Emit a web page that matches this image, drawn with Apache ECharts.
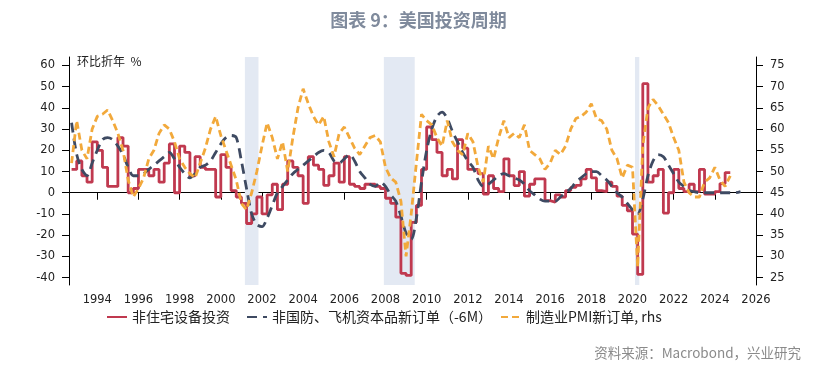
<!DOCTYPE html>
<html><head><meta charset="utf-8">
<script src="https://cdn.jsdelivr.net/npm/echarts@6/dist/echarts.min.js"></script>
<style>html,body{margin:0;padding:0;background:#fff}#c{width:837px;height:373px}</style>
</head><body><div id="c"></div>
<script>
// ---- data (quarterly, decimal-year start) ----
const xTicks = [1994,1996,1998,2000,2002,2004,2006,2008,2010,2012,2014,2016,2018,2020,2022,2024,2026];
const leftTicks = [-40,-30,-20,-10,0,10,20,30,40,50,60];
const rightTicks = [25,30,35,40,45,50,55,60,65,70,75];
const recessions = [[2001.17,2001.83],[2007.92,2009.42],[2020.12,2020.33]];
const seriesNames = ['非住宅设备投资','非国防、飞机资本品新订单（-6M）','制造业PMI新订单, rhs'];

const redStart = 1992.75;
const redValues = [11,15,8,5,24,20,12,3,3,26,22,0,2,11,11,8,11,5,14,23,0,22,19,8,17,12,11,11,-2,18,12,1,-2,-5,-14.5,-10,-2,-10,-1,4,-8,4,15,12,8,-5,17,13,11,3.5,8,14,5,17,4,3,2,4,4,3,2,-2.6,-5,-11.5,-38,-39,-14,-6,11,31,25,19,8,11,6.5,25,21,11,11,9,-0.6,8,2,0.5,16,8,3.4,10,-1.6,4,6.5,6.5,-3.7,-4.5,-1,-2,1,2.5,3.5,6.5,11,7,1,0.5,5,3,-1.6,-6,-8.5,-19.5,-38.5,51.4,5,8,11,-9.6,0,11,2,0.5,4,0.5,11,-0.6,-0.6,0.5,4.3,9.5,9.5];

const navyStart = 1992.75;
const navyValues = [33,18,11,8,14,20,25,26,25,22,18,12,8,8,9,11,13,15,17,19,16,12,9,7,9,12,13,15,19,23,26,27,26,15,2,-10,-15,-16,-12,-6,0,3,6,9,11,13,15,17,19,20,19,15,14,16,18,15,10,7,4,3,5,3,-1,-4,-11,-19,-22,-12,5,20,30,36,38,35,29,24,19,15,12,6,3,4,6,8,9,8,7,6,4,1,-1,-3,-4,-4,-4,-2,0,2,5,7,9,10,10,8,6,3,0,-2,-5,-8,-10,-3,8,15,18,17,13,9,5,3,1,0.5,0,0,0,0,0,0,0,0,0.5];

const orangeStart = 1992.75;
const orangeValues = [52,62,55,53,60,63,63.5,64.5,62,59,55,48,44,46,48.5,53,55,59,61,60,57,53,51,49.5,48.5,52,55.5,60,63,58.5,55,51.5,48,42.5,41,45,50,56,61.5,58,53,57,50,58,65,69.5,66,63,61,63,57,53.5,59,60.5,58,55.5,54,56,58,58.5,57,51,48.5,47.5,43,30,40,52,63.5,62,61,58,56,62,57,55,54,59,57,51,47.5,56,53,58,62,58,59,58,61,55,54,53,50.5,52,55,54,56,60,62.5,63,64,66,62.5,62,60,55,53,48.5,51.5,51,27.5,56,65,67,65.5,63.5,61.5,58,55,47.5,45,44,44,47.5,48.5,51,48,46.5,49];

function toPairs(start, vals){ return vals.map((v,i)=>[start + i*0.25, v]); }

const chart = echarts.init(document.getElementById('c'), null, {renderer:'canvas'});
const axisFont = {fontFamily:'DejaVu Sans', fontSize:11.5, color:'#222'};
const cjk = 'Noto Sans CJK SC';
const legendText = {fontFamily:cjk, fontSize:14, color:'#222'};
const hiddenSymbol = {color:'rgba(0,0,0,0)', borderWidth:0, opacity:0};

chart.setOption({
  animation:false,
  backgroundColor:'#fff',
  title:{text:'图表 9：美国投资周期', left:'center', top:6,
    textStyle:{fontFamily:cjk, fontSize:18, fontWeight:'bold', color:'#7F8A9C'}},
  graphic:[
    {type:'text', left:77, top:55, style:{text:'环比折年  %', fontFamily:cjk, fontSize:12, fill:'#222'}},
    {type:'text', right:36, top:346, style:{text:'资料来源：Macrobond，兴业研究', fontFamily:cjk, fontSize:13.5, fill:'#8a8a8a'}}
  ],
  legend:[
    {data:[seriesNames[0]], left:101, top:305, itemWidth:20, itemHeight:14, itemStyle:hiddenSymbol, textStyle:legendText},
    {data:[seriesNames[1]], left:241, top:305, itemWidth:20, itemHeight:14, itemStyle:hiddenSymbol, textStyle:legendText},
    {data:[seriesNames[2]], left:495, top:305, itemWidth:20, itemHeight:14, itemStyle:hiddenSymbol, textStyle:legendText}
  ],
  grid:{left:69, right:81, top:57, bottom:88},
  xAxis:{type:'value', min:1992.625, max:2026,
    axisLine:{lineStyle:{color:'#000', width:1}},
    axisTick:{show:true, length:7, lineStyle:{color:'#000'}, customValues:xTicks},
    axisLabel:Object.assign({margin:9, customValues:xTicks, formatter:v=>String(v)}, axisFont),
    splitLine:{show:false}},
  yAxis:[
    {type:'value', min:-43.5, max:64, position:'left',
      axisLine:{show:true, lineStyle:{color:'#000', width:1}},
      axisTick:{show:true, length:7, lineStyle:{color:'#000'}, customValues:leftTicks},
      axisLabel:Object.assign({margin:14, customValues:leftTicks}, axisFont),
      splitLine:{show:false}},
    {type:'value', min:23.25, max:77, position:'right',
      axisLine:{show:true, lineStyle:{color:'#000', width:1}},
      axisTick:{show:true, length:7, lineStyle:{color:'#000'}, customValues:rightTicks},
      axisLabel:Object.assign({margin:14, customValues:rightTicks}, axisFont),
      splitLine:{show:false}}
  ],
  series:[
    {name:seriesNames[0], type:'line', yAxisIndex:0, step:'end', symbol:'none',
      data:toPairs(redStart, redValues),
      lineStyle:{color:'#C0394F', width:2.8}, itemStyle:{color:'#C0394F'},
      markArea:{silent:true, itemStyle:{color:'#E3E9F3'},
        data:recessions.map(r=>[{xAxis:r[0]},{xAxis:r[1]}])},
      z:2},
    {name:seriesNames[1], type:'line', yAxisIndex:0, symbol:'none', smooth:0.3,
      data:toPairs(navyStart, navyValues),
      lineStyle:{color:'#3E4A62', width:2.8, type:[10,6]}, itemStyle:{color:'#3E4A62'}, z:3},
    {name:seriesNames[2], type:'line', yAxisIndex:1, symbol:'none',
      data:toPairs(orangeStart, orangeValues),
      lineStyle:{color:'#F2A93B', width:2.8, type:[7,4]}, itemStyle:{color:'#F2A93B'}, z:4}
  ]
});
</script></body></html>
